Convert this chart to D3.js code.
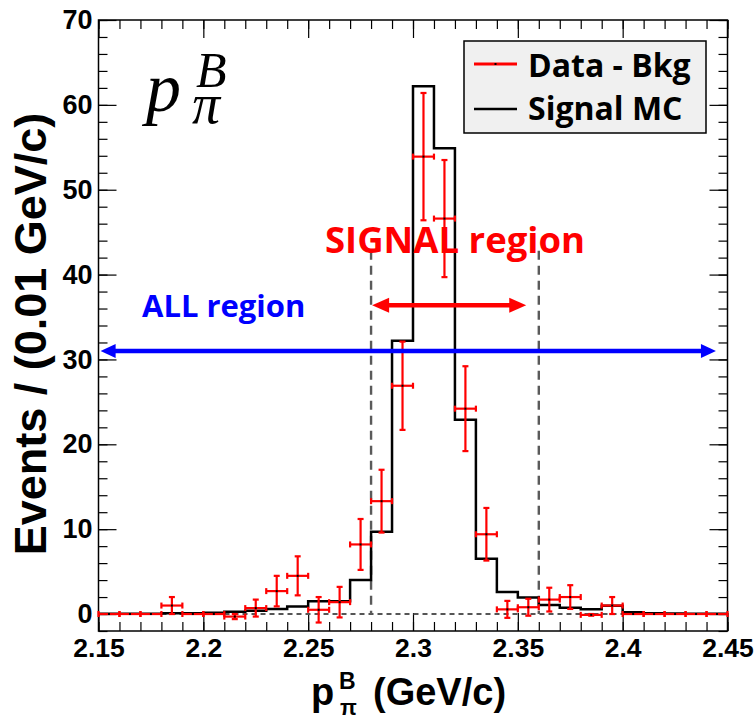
<!DOCTYPE html>
<html>
<head>
<meta charset="utf-8">
<script src="https://cdn.jsdelivr.net/npm/d3@7"></script>
<style>
  html, body { margin: 0; padding: 0; background: #fff; }
  svg { display: block; }
</style>
</head>
<body>
<svg id="chart" width="755" height="722"></svg>
<script>
// ---------------- data ----------------
// bin low edges (width 0.01 GeV/c)
const binLow = [2.15,2.16,2.17,2.18,2.19,2.20,2.21,2.22,2.23,2.24,2.25,2.26,2.27,2.28,2.29,
                2.30,2.31,2.32,2.33,2.34,2.35,2.36,2.37,2.38,2.39,2.40,2.41,2.42,2.43,2.44];
const binWidth = 0.01;
// Signal MC histogram contents
const mcValues = [0.02,0.02,0.03,0.1,0.1,0.15,0.27,0.4,0.6,0.9,1.5,1.5,4.0,9.7,32.2,
                  62.2,54.9,22.9,6.5,2.6,1.95,1.05,0.75,0.55,0.98,0.2,0.08,0.05,0.03,0.02];
// Data - Bkg points and errors
const dataValues = [0,0,0,1.0,0,0,-0.3,0.7,2.7,4.5,0.5,1.4,8.2,13.3,26.9,
                    53.9,46.6,24.2,9.4,0.55,0.8,1.7,2.0,-0.1,1.0,0,0,0,0,0];
const dataErrors = [0,0,0,1.0,0,0,0.3,1.0,1.8,2.3,1.5,1.8,3.0,3.7,5.2,
                    7.5,6.9,5.0,3.1,1.0,1.0,1.4,1.4,0.1,1.0,0,0,0,0,0];
const xTickLabels = ["2.15","2.2","2.25","2.3","2.35","2.4","2.45"];
const yTickLabels = ["0","10","20","30","40","50","60","70"];
const signalRegion = [2.28, 2.36];
const legendLabels = ["Data - Bkg", "Signal MC"];

// ---------------- setup ----------------
const svg = d3.select("#chart");
const L = 98.5, R = 727.5, T = 20, B = 631;
const x = d3.scaleLinear().domain([2.15, 2.45]).range([L, R]);
const y = d3.scaleLinear().domain([-2, 70]).range([B, T]);

const axisFont = "'Liberation Sans', Arial, sans-serif";
const labelFont = "'Open Sans', 'Noto Sans CJK KR', sans-serif";

// ---------------- axes (ROOT style, ticks inside) ----------------
const xMajor = xTickLabels.map(Number);
const xMinor = d3.range(0, 31).map(i => +(2.15 + i * 0.01).toFixed(2));
const yMajor = yTickLabels.map(Number);
const yMinor = d3.range(-2, 71, 2);

function styleAxis(g) {
  g.select(".domain").remove();
  g.selectAll(".tick line").attr("stroke", "#000").attr("stroke-width", 1.2);
}

// bottom
svg.append("g").attr("transform", `translate(0,${B})`)
  .call(d3.axisBottom(x).tickValues(xMinor).tickSize(-9).tickFormat(""))
  .call(styleAxis);
svg.append("g").attr("transform", `translate(0,${B})`)
  .call(d3.axisBottom(x).tickValues(xMajor).tickSize(-18).tickPadding(0)
        .tickFormat((d, i) => xTickLabels[i]))
  .call(styleAxis)
  .call(g => g.selectAll("text")
    .attr("font-family", axisFont).attr("font-weight", "bold")
    .attr("font-size", 26.5).attr("fill", "#000")
    .attr("dy", null).attr("y", 26));
// top
svg.append("g").attr("transform", `translate(0,${T})`)
  .call(d3.axisTop(x).tickValues(xMinor).tickSize(-9).tickFormat(""))
  .call(styleAxis);
svg.append("g").attr("transform", `translate(0,${T})`)
  .call(d3.axisTop(x).tickValues(xMajor).tickSize(-18).tickFormat(""))
  .call(styleAxis);
// left
svg.append("g").attr("transform", `translate(${L},0)`)
  .call(d3.axisLeft(y).tickValues(yMinor).tickSize(-9).tickFormat(""))
  .call(styleAxis);
svg.append("g").attr("transform", `translate(${L},0)`)
  .call(d3.axisLeft(y).tickValues(yMajor).tickSize(-18).tickPadding(0)
        .tickFormat((d, i) => yTickLabels[i]))
  .call(styleAxis)
  .call(g => g.selectAll("text")
    .attr("font-family", axisFont).attr("font-weight", "bold")
    .attr("font-size", 27).attr("fill", "#000").attr("x", -6));
// right
svg.append("g").attr("transform", `translate(${R},0)`)
  .call(d3.axisRight(y).tickValues(yMinor).tickSize(-9).tickFormat(""))
  .call(styleAxis);
svg.append("g").attr("transform", `translate(${R},0)`)
  .call(d3.axisRight(y).tickValues(yMajor).tickSize(-18).tickFormat(""))
  .call(styleAxis);

// frame
svg.append("rect").attr("x", L).attr("y", T).attr("width", R - L).attr("height", B - T)
  .attr("fill", "none").attr("stroke", "#000").attr("stroke-width", 1.5);

// ---------------- reference lines ----------------
svg.append("line")
  .attr("x1", x(2.15)).attr("x2", x(2.45)).attr("y1", y(0)).attr("y2", y(0))
  .attr("stroke", "#555").attr("stroke-width", 2).attr("stroke-dasharray", "5,4");

signalRegion.forEach(v => {
  svg.append("line")
    .attr("x1", x(v)).attr("x2", x(v)).attr("y1", y(42.8)).attr("y2", y(0))
    .attr("stroke", "#5a5a5a").attr("stroke-width", 2.4).attr("stroke-dasharray", "9,6");
});

// ---------------- MC histogram (step) ----------------
const stepPts = [];
binLow.forEach((b, i) => {
  stepPts.push([x(b), y(mcValues[i])]);
  stepPts.push([x(b + binWidth), y(mcValues[i])]);
});
svg.append("path")
  .attr("d", d3.line()(stepPts))
  .attr("fill", "none").attr("stroke", "#000").attr("stroke-width", 2.5)
  .attr("stroke-linejoin", "miter");

// ---------------- data points ----------------
const gData = svg.append("g").attr("stroke", "#ff0000").attr("stroke-width", 2.2);
const cap = 3;
binLow.forEach((b, i) => {
  const cx = x(b + binWidth / 2);
  const cy = y(dataValues[i]);
  const x0 = x(b), x1 = x(b + binWidth);
  gData.append("line").attr("x1", x0).attr("x2", x1).attr("y1", cy).attr("y2", cy);
  gData.append("line").attr("x1", x0).attr("x2", x0).attr("y1", cy - cap).attr("y2", cy + cap);
  gData.append("line").attr("x1", x1).attr("x2", x1).attr("y1", cy - cap).attr("y2", cy + cap);
  const e = dataErrors[i];
  if (e > 0) {
    const yt = y(dataValues[i] + e), yb = y(dataValues[i] - e);
    gData.append("line").attr("x1", cx).attr("x2", cx).attr("y1", yt).attr("y2", yb);
    gData.append("line").attr("x1", cx - cap).attr("x2", cx + cap).attr("y1", yt).attr("y2", yt);
    gData.append("line").attr("x1", cx - cap).attr("x2", cx + cap).attr("y1", yb).attr("y2", yb);
  }
  svg.append("rect").attr("x", cx - 1).attr("y", cy - 1).attr("width", 2).attr("height", 2)
    .attr("fill", "#000");
});

// ---------------- arrows ----------------
function doubleArrow(x1, x2, yy, color, head, half, width) {
  svg.append("line").attr("x1", x1 + head - 2).attr("x2", x2 - head + 2)
    .attr("y1", yy).attr("y2", yy).attr("stroke", color).attr("stroke-width", width);
  svg.append("path").attr("d", `M${x1},${yy} L${x1 + head},${yy - half} L${x1 + head},${yy + half} Z`)
    .attr("fill", color);
  svg.append("path").attr("d", `M${x2},${yy} L${x2 - head},${yy - half} L${x2 - head},${yy + half} Z`)
    .attr("fill", color);
}
doubleArrow(x(2.151), x(2.4445), y(31), "#0000ff", 15, 7, 4.5);
doubleArrow(x(2.2805), x(2.354), y(36.4), "#ff0000", 17, 7.5, 4.5);

// ---------------- annotation text ----------------
svg.append("text").attr("x", 142).attr("y", 317)
  .attr("font-family", labelFont).attr("font-weight", "bold").attr("font-size", 31)
  .attr("fill", "#0000ff").text("ALL region");
svg.append("text").attr("x", 325).attr("y", 253)
  .attr("font-family", labelFont).attr("font-weight", "bold").attr("font-size", 36.5)
  .attr("fill", "#ff0000").text("SIGNAL region");

// math label p_pi^B (one text element with positioned tspans)
const mathFont = "'Liberation Serif', 'Times New Roman', serif";
const math = svg.append("text")
  .attr("font-family", mathFont).attr("font-style", "italic").attr("fill", "#000");
math.append("tspan").attr("x", 146).attr("y", 111).attr("font-size", 70).text("p");
math.append("tspan").attr("x", 196).attr("y", 87).attr("font-size", 50).text("B");
math.append("tspan").attr("x", 192).attr("y", 123).attr("font-size", 56).text("π");

// ---------------- legend ----------------
const leg = svg.append("g");
leg.append("rect").attr("x", 464).attr("y", 41).attr("width", 242).attr("height", 92)
  .attr("fill", "#f0f0f0").attr("stroke", "#000").attr("stroke-width", 1.5);
leg.append("line").attr("x1", 474).attr("x2", 517).attr("y1", 64).attr("y2", 64)
  .attr("stroke", "#ff0000").attr("stroke-width", 3);
leg.append("rect").attr("x", 494.5).attr("y", 63).attr("width", 2).attr("height", 2).attr("fill", "#000");
leg.append("line").attr("x1", 474).attr("x2", 517).attr("y1", 109).attr("y2", 109)
  .attr("stroke", "#000").attr("stroke-width", 2.5);
leg.selectAll("text.leg").data(legendLabels).enter().append("text")
  .attr("class", "leg")
  .attr("x", 528).attr("y", (d, i) => 77 + i * 43)
  .attr("font-family", labelFont).attr("font-weight", "bold").attr("font-size", 32)
  .attr("fill", "#000").text(d => d);

// ---------------- axis titles ----------------
svg.append("text")
  .attr("transform", "translate(46,334) rotate(-90)")
  .attr("text-anchor", "middle")
  .attr("font-family", axisFont).attr("font-weight", "bold").attr("font-size", 45)
  .text("Events / (0.01 GeV/c)");

const xt = svg.append("text")
  .attr("font-family", axisFont).attr("font-weight", "bold").attr("fill", "#000");
xt.append("tspan").attr("x", 311).attr("y", 705).attr("font-size", 38).text("p");
xt.append("tspan").attr("x", 339).attr("y", 689).attr("font-size", 23).text("B");
xt.append("tspan").attr("x", 340).attr("y", 715).attr("font-size", 22).text("π");
xt.append("tspan").attr("x", 373).attr("y", 705).attr("font-size", 38).text("(GeV/c)");
</script>
</body>
</html>
